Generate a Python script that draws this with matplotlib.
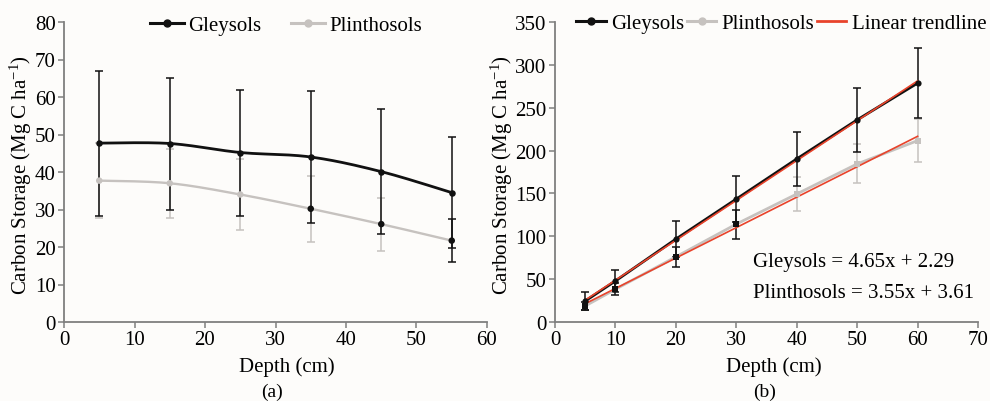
import numpy as np
import matplotlib
matplotlib.use("Agg")
import matplotlib.pyplot as plt
from matplotlib.lines import Line2D

# ---------------- data ----------------
depth_a = [5, 15, 25, 35, 45, 55]
gley_a = [47.7, 47.6, 45.2, 44.0, 40.1, 34.5]
gley_a_err = [19.3, 17.6, 16.8, 17.5, 16.6, 14.8]
plin_a = [37.7, 37.0, 34.0, 30.2, 26.1, 21.7]
plin_a_err = [10.0, 9.2, 9.4, 8.8, 7.1, 5.8]

depth_b = [5, 10, 20, 30, 40, 50, 60]
gley_b = [24.5, 47.9, 96.7, 143.4, 190.2, 235.8, 278.7]
gley_b_err = [10.0, 13.0, 20.7, 27.3, 32.0, 37.0, 41.0]
plin_b = [18.7, 38.2, 76.0, 114.2, 149.3, 184.4, 211.6]
plin_b_err = [5.0, 7.0, 12.0, 17.0, 19.5, 22.8, 25.3]

gley_slope, gley_icpt = 4.65, 2.29
plin_slope, plin_icpt = 3.55, 3.61

xticks_a = [0, 10, 20, 30, 40, 50, 60]
yticks_a = [0, 10, 20, 30, 40, 50, 60, 70, 80]
xticks_b = [0, 10, 20, 30, 40, 50, 60, 70]
yticks_b = [0, 50, 100, 150, 200, 250, 300, 350]

# ---------------- style ----------------
BLACK = "#111111"
GRAY = "#c6c2bf"
RED = "#e8432b"
AXC = "#7f7f7f"
BG = "#fdfcfa"
FS = 15
FS_YLAB = 15

plt.rcParams["font.family"] = ["Liberation Serif", "DejaVu Serif"]
plt.rcParams["mathtext.fontset"] = "custom"
plt.rcParams["mathtext.rm"] = "Liberation Serif"
plt.rcParams["mathtext.it"] = "Liberation Serif:italic"

plin_a_colors = [GRAY, GRAY, GRAY, BLACK, BLACK, BLACK]
plin_a_ecolors = [GRAY, GRAY, GRAY, GRAY, GRAY, BLACK]
plin_b_colors = [BLACK, BLACK, BLACK, BLACK, GRAY, GRAY, GRAY]
plin_b_ecolors = [BLACK, BLACK, BLACK, BLACK, GRAY, GRAY, GRAY]


def smooth(x, y, n=30):
    x = np.asarray(x, float)
    y = np.asarray(y, float)
    px = np.concatenate([[x[0]], x, [x[-1]]])
    py = np.concatenate([[y[0]], y, [y[-1]]])
    xs, ys = [], []
    t = np.linspace(0, 1, n)
    for i in range(1, len(px) - 2):
        p0 = np.array([px[i], py[i]])
        p3 = np.array([px[i + 1], py[i + 1]])
        c1 = p0 + (np.array([px[i + 1], py[i + 1]]) - np.array([px[i - 1], py[i - 1]])) / 6
        c2 = p3 - (np.array([px[i + 2], py[i + 2]]) - np.array([px[i], py[i]])) / 6
        b = ((1 - t) ** 3)[:, None] * p0 + (3 * (1 - t) ** 2 * t)[:, None] * c1 \
            + (3 * (1 - t) * t ** 2)[:, None] * c2 + (t ** 3)[:, None] * p3
        xs.append(b[:, 0])
        ys.append(b[:, 1])
    return np.concatenate(xs), np.concatenate(ys)


def errbars(ax, x, y, e, colors, lw=1.1, cap=3.2, z=2):
    for xi, yi, ei, c in zip(x, y, e, colors):
        ax.errorbar([xi], [yi], yerr=[ei], fmt="none", ecolor=c,
                    elinewidth=lw, capsize=cap, capthick=lw, zorder=z)


def style_axes(ax, xt, yt):
    ax.set_facecolor(BG)
    for s in ("top", "right"):
        ax.spines[s].set_visible(False)
    for s in ("left", "bottom"):
        ax.spines[s].set_color(AXC)
        ax.spines[s].set_linewidth(1.3)
    ax.set_xticks(xt)
    ax.set_yticks(yt)
    ax.set_xlim(xt[0], xt[-1])
    ax.set_ylim(yt[0], yt[-1])
    ax.tick_params(direction="out", length=4, width=1.1, color=AXC,
                   labelsize=FS, pad=2)
    ax.set_xlabel("Depth (cm)", fontsize=FS)
    ax.set_ylabel(r"Carbon Storage (Mg C ha$^{\mathregular{-1}}$)", fontsize=FS_YLAB)


fig = plt.figure(figsize=(9.9, 4.02), dpi=100, facecolor=BG)

# ---------- panel (a) ----------
ax1 = fig.add_axes([64 / 990, 79 / 402, 423 / 990, 300 / 402])
style_axes(ax1, xticks_a, yticks_a)
ax1.yaxis.set_label_coords(-0.071, 0.492)
ax1.xaxis.set_label_coords(0.527, -0.115)

errbars(ax1, depth_a, plin_a, plin_a_err, plin_a_ecolors, z=2)
errbars(ax1, depth_a, gley_a, gley_a_err, [BLACK] * len(depth_a), z=3)
sx, sy = smooth(depth_a, plin_a)
ax1.plot(sx, sy, color=GRAY, lw=1.7, zorder=4)
sx, sy = smooth(depth_a, gley_a)
ax1.plot(sx, sy, color=BLACK, lw=2.0, zorder=5)
ax1.scatter(depth_a, plin_a, s=22, c=plin_a_colors, zorder=6, linewidths=0)
ax1.scatter(depth_a, gley_a, s=22, c=BLACK, zorder=6, linewidths=0)

h1 = [Line2D([], [], color=BLACK, lw=2.2, marker="o", ms=5),
      Line2D([], [], color=GRAY, lw=2.2, marker="o", ms=5)]
ax1.legend(h1, ["Gleysols", "Plinthosols"], ncol=2, loc="center",
           bbox_to_anchor=(0.525, 0.99), frameon=False, fontsize=FS,
           handlelength=1.65, handletextpad=0.2, columnspacing=1.4,
           borderaxespad=0, borderpad=0)

# ---------- panel (b) ----------
ax2 = fig.add_axes([555 / 990, 79 / 402, 423 / 990, 300 / 402])
style_axes(ax2, xticks_b, yticks_b)
ax2.yaxis.set_label_coords(-0.095, 0.492)
ax2.xaxis.set_label_coords(0.518, -0.115)

errbars(ax2, depth_b, plin_b, plin_b_err, plin_b_ecolors, z=2)
errbars(ax2, depth_b, gley_b, gley_b_err, [BLACK] * len(depth_b), z=3)
ax2.plot(depth_b, plin_b, color=GRAY, lw=2.0, zorder=4)
ax2.plot(depth_b, gley_b, color=BLACK, lw=2.0, zorder=5)
xx = np.array([depth_b[0], depth_b[-1]], float)
ax2.plot(xx, gley_slope * xx + gley_icpt, color=RED, lw=1.2, zorder=6)
ax2.plot(xx, plin_slope * xx + plin_icpt, color=RED, lw=1.2, zorder=6)
ax2.scatter(depth_b, plin_b, s=18, c=plin_b_colors, marker="s", zorder=7, linewidths=0)
ax2.scatter(depth_b, gley_b, s=20, c=BLACK, zorder=7, linewidths=0)

ax2.text(32.8, 70, f"Gleysols = {gley_slope:.2f}x + {gley_icpt:.2f}",
         fontsize=FS, va="center", ha="left")
ax2.text(32.8, 34, f"Plinthosols = {plin_slope:.2f}x + {plin_icpt:.2f}",
         fontsize=FS, va="center", ha="left")

h2 = [Line2D([], [], color=BLACK, lw=2.2, marker="o", ms=5),
      Line2D([], [], color=GRAY, lw=2.2, marker="o", ms=5),
      Line2D([], [], color=RED, lw=2.0)]
ax2.legend(h2, ["Gleysols", "Plinthosols", "Linear trendline"], ncol=3,
           loc="center", bbox_to_anchor=(0.535, 0.995), frameon=False,
           fontsize=FS, handlelength=1.4, handletextpad=0.25,
           columnspacing=0.15, borderaxespad=0, borderpad=0)

fig.text(272 / 990, 1 - 392 / 402, "(a)", fontsize=14, ha="center", va="center")
fig.text(765 / 990, 1 - 392 / 402, "(b)", fontsize=14, ha="center", va="center")

fig.savefig("out.png", dpi=100, facecolor=BG)
